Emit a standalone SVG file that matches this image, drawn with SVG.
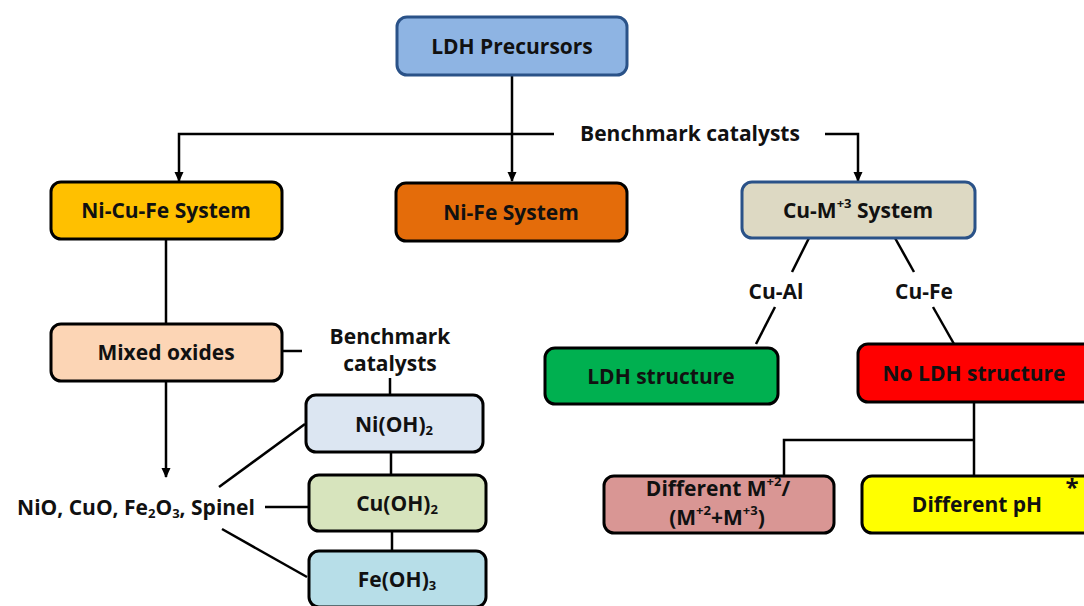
<svg xmlns="http://www.w3.org/2000/svg" width="1084" height="606" viewBox="0 0 1084 606">
  <style>
    .box { stroke: #000; stroke-width: 3; }
    .blue { stroke: #2a5288; stroke-width: 3; }
    .t { font-family: "Open Sans", "Liberation Sans", sans-serif; font-weight: 700; font-size: 21px; fill: #111; text-anchor: middle; dominant-baseline: central; }
    .s { font-size: 13px; }
    .ln { stroke: #000; stroke-width: 2.5; fill: none; }
  </style>
  <defs>
    <marker id="ah" markerWidth="10" markerHeight="10" refX="9" refY="5" orient="auto" markerUnits="userSpaceOnUse" viewBox="0 0 10 10">
      <path d="M0,0.5 L10,5 L0,9.5 Z" fill="#000"/>
    </marker>
  </defs>
  <rect width="1084" height="606" fill="#fff"/>

  <!-- connectors -->
  <g id="connectors">
    <line class="ln" x1="512" y1="75" x2="512" y2="181" marker-end="url(#ah)"/>
    <polyline class="ln" points="554,134 179,134 179,181" marker-end="url(#ah)"/>
    <polyline class="ln" points="825,134 858,134 858,181" marker-end="url(#ah)"/>
    <line class="ln" x1="166" y1="239" x2="166" y2="324"/>
    <line class="ln" x1="166" y1="381" x2="166" y2="477" marker-end="url(#ah)"/>
    <line class="ln" x1="282" y1="351" x2="302" y2="351"/>
    <line class="ln" x1="390" y1="378" x2="390" y2="395"/>
    <line class="ln" x1="391" y1="452" x2="391" y2="475"/>
    <line class="ln" x1="392" y1="531" x2="392" y2="551"/>
    <line class="ln" x1="265" y1="507" x2="309" y2="507"/>
    <line class="ln" x1="219" y1="487" x2="305" y2="424"/>
    <line class="ln" x1="222" y1="529" x2="307" y2="577"/>
    <line class="ln" x1="809" y1="238" x2="792" y2="272"/>
    <line class="ln" x1="895" y1="238" x2="914" y2="272"/>
    <line class="ln" x1="775" y1="307" x2="756" y2="344"/>
    <line class="ln" x1="933" y1="307" x2="954" y2="344"/>
    <polyline class="ln" points="974,402 974,475"/>
    <polyline class="ln" points="974,440 784,440 784,476"/>
  </g>

  <g id="ldh-precursors">
    <rect class="blue" x="397" y="17" width="230" height="58" rx="10" fill="#8eb4e3"/>
    <text class="t" x="512" y="46">LDH Precursors</text>
  </g>

  <g id="benchmark-top">
    <text class="t" x="690" y="133">Benchmark catalysts</text>
  </g>

  <g id="ni-cu-fe">
    <rect class="box" x="51" y="182" width="231" height="57" rx="10" fill="#ffc000"/>
    <text class="t" x="166" y="210">Ni-Cu-Fe System</text>
  </g>

  <g id="ni-fe">
    <rect class="box" x="396" y="183" width="231" height="58" rx="10" fill="#e46c0a"/>
    <text class="t" x="511" y="212">Ni-Fe System</text>
  </g>

  <g id="cu-m3">
    <rect class="blue" x="742" y="182" width="233" height="56" rx="10" fill="#ddd9c3"/>
    <text class="t" x="858" y="210">Cu-M<tspan class="s" dy="-7">+3</tspan><tspan dy="7"> System</tspan></text>
  </g>

  <g id="cu-al">
    <text class="t" x="776" y="291">Cu-Al</text>
  </g>
  <g id="cu-fe">
    <text class="t" x="924" y="291">Cu-Fe</text>
  </g>

  <g id="mixed-oxides">
    <rect class="box" x="51" y="324" width="231" height="57" rx="10" fill="#fcd5b5"/>
    <text class="t" x="166" y="352">Mixed oxides</text>
  </g>

  <g id="benchmark-left">
    <text class="t" x="390" y="336">Benchmark</text>
    <text class="t" x="390" y="363">catalysts</text>
  </g>

  <g id="ni-oh2">
    <rect class="box" x="306" y="395" width="177" height="57" rx="10" fill="#dce6f2"/>
    <text class="t" x="394" y="424">Ni(OH)<tspan class="s" dy="6">2</tspan></text>
  </g>

  <g id="cu-oh2">
    <rect class="box" x="309" y="475" width="177" height="56" rx="10" fill="#d7e4bd"/>
    <text class="t" x="397" y="503">Cu(OH)<tspan class="s" dy="6">2</tspan></text>
  </g>

  <g id="fe-oh3">
    <rect class="box" x="309" y="551" width="177" height="56" rx="10" fill="#b7dee8"/>
    <text class="t" x="397" y="579">Fe(OH)<tspan class="s" dy="6">3</tspan></text>
  </g>

  <g id="oxides-list">
    <text class="t" x="136" y="507">NiO, CuO, Fe<tspan class="s" dy="6">2</tspan><tspan dy="-6">O</tspan><tspan class="s" dy="6">3</tspan><tspan dy="-6">, Spinel</tspan></text>
  </g>

  <g id="ldh-structure">
    <rect class="box" x="545" y="348" width="233" height="56" rx="10" fill="#00b050"/>
    <text class="t" x="661" y="376">LDH structure</text>
  </g>

  <g id="no-ldh-structure">
    <rect class="box" x="858" y="344" width="240" height="58" rx="10" fill="#ff0000"/>
    <text class="t" x="974" y="373">No LDH structure</text>
  </g>

  <g id="different-m">
    <rect class="box" x="604" y="476" width="230" height="57" rx="10" fill="#d99694"/>
    <text class="t" x="718" y="488">Different M<tspan class="s" dy="-7">+2</tspan><tspan dy="7">/</tspan></text>
    <text class="t" x="717" y="517">(M<tspan class="s" dy="-7">+2</tspan><tspan dy="7">+M</tspan><tspan class="s" dy="-7">+3</tspan><tspan dy="7">)</tspan></text>
  </g>

  <g id="different-ph">
    <rect class="box" x="862" y="476" width="236" height="57" rx="10" fill="#ffff00"/>
    <text class="t" x="977" y="504">Different pH</text>
    <text class="t" x="1072" y="486" style="font-size:24px">*</text>
  </g>
</svg>
